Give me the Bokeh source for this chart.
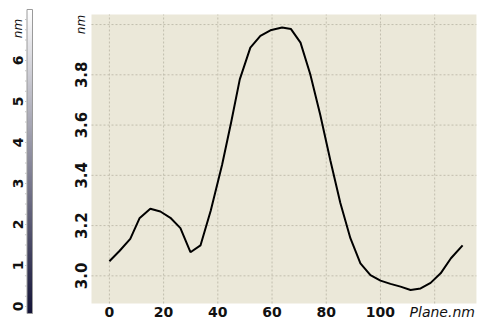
import numpy as np
from bokeh.plotting import figure
from bokeh.models import Range1d, LinearColorMapper
from bokeh.core.properties import value
from bokeh.embed import file_html
from bokeh.resources import INLINE

# ---- data ----
plane_nm = [0, 3.8, 7.7, 11.1, 15.1, 18.8, 22.5, 26.2, 29.9, 33.6, 37.4, 41.6,
            44.9, 48.1, 52.0, 55.7, 59.4, 63.7, 67.0, 70.5, 74.1, 77.8, 81.5,
            85.2, 88.9, 92.6, 96.3, 100.0, 103.7, 107.4, 111.1, 114.8, 118.5,
            122.2, 126.0, 130.3]
height_nm = [3.058, 3.10, 3.147, 3.229, 3.267, 3.256, 3.231, 3.190, 3.094, 3.121,
             3.26, 3.443, 3.61, 3.782, 3.908, 3.955, 3.977, 3.988, 3.982, 3.928,
             3.802, 3.64, 3.46, 3.29, 3.15, 3.05, 3.003, 2.981, 2.968, 2.957,
             2.944, 2.950, 2.972, 3.01, 3.07, 3.121]
x_ticks = [0, 20, 40, 60, 80, 100, 120]
x_tick_labels = ["0", "20", "40", "60", "80", "100"]   # 120 carries the axis name
y_ticks = [3.0, 3.2, 3.4, 3.6, 3.8, 4.0]
y_tick_labels = ["3.0", "3.2", "3.4", "3.6", "3.8"]     # 4.0 carries the unit
cbar_ticks = [0, 1, 2, 3, 4, 5, 6]
cbar_tick_labels = ["0", "1", "2", "3", "4", "5", "6"]
x_axis_name = "Plane.nm"
y_unit = "nm"
cbar_unit = "nm"

# plot-area extents (data units)
AX0, AX1 = -6.6, 135.4
AY0, AY1 = 2.890, 4.040
# colour-bar extents (nm)
CB0, CB1 = -0.171, 7.244

W, H = 477, 321
FONT = value("'DejaVu Sans'")
BEIGE = "#EBE8D9"
GRID = "#c2beae"
TXT = "#111111"

# canvas = frame; main data scale: x 2.7108 px/unit, y 251.3 px/unit
XPU, YPU = 2.7108, 251.3
x_start = AX0 - 91 / XPU
x_end = AX0 + (W - 91) / XPU
y_end = AY1 + 14 / YPU
y_start = AY1 - (H - 14) / YPU

p = figure(width=W, height=H, output_backend="svg", toolbar_location=None,
           x_range=Range1d(x_start, x_end), y_range=Range1d(y_start, y_end),
           min_border=0)
p.axis.visible = False
p.grid.visible = False
p.outline_line_color = None
p.background_fill_color = "white"
p.border_fill_color = "white"

# extra scales for the colour bar: x in pixels, y in nm (41 px per nm, 0 at 306 px)
CPU = 41.0
p.extra_x_ranges = {"px": Range1d(0, W)}
p.extra_y_ranges = {"cb": Range1d(-(H - 306) / CPU, 306 / CPU)}

# ---- plot area ----
p.quad(left=[AX0], right=[AX1], bottom=[AY0], top=[AY1],
       fill_color=BEIGE, line_color=None)
p.segment(x0=x_ticks, x1=x_ticks, y0=[AY0] * len(x_ticks), y1=[AY1] * len(x_ticks),
          line_color=GRID, line_dash="2 2", line_width=1)
p.segment(x0=[AX0] * len(y_ticks), x1=[AX1] * len(y_ticks), y0=y_ticks, y1=y_ticks,
          line_color=GRID, line_dash="2 2", line_width=1)
p.line(plane_nm, height_nm, line_color="black", line_width=2)

# tick labels
lab_y = AY0 - (312 - 303) / YPU
lab_x = AX0 - (91 - 80.5) / XPU
p.text(x=x_ticks[:len(x_tick_labels)], y=[lab_y] * len(x_tick_labels),
       text=x_tick_labels, text_font=FONT, text_font_style="bold",
       text_font_size="14px", text_align="center", text_baseline="middle",
       text_color=TXT)
p.text(x=[lab_x] * len(y_tick_labels), y=y_ticks[:len(y_tick_labels)],
       text=y_tick_labels, angle=np.pi / 2, text_font=FONT,
       text_font_style="bold", text_font_size="15px", text_align="center",
       text_baseline="middle", text_color=TXT)
p.text(x=[lab_x], y=[y_ticks[-1]], text=[y_unit], angle=np.pi / 2,
       text_font=FONT, text_font_style="italic", text_font_size="12px",
       text_align="center", text_baseline="middle", text_color=TXT)
p.text(x=[AX1 - 1.5 / XPU], y=[lab_y], text=[x_axis_name], text_font=FONT,
       text_font_style="italic", text_font_size="14px", text_align="right",
       text_baseline="middle", text_color=TXT)

# ---- colour bar ----
def hex_lerp(c0, c1, t):
    a = [int(c0[i:i + 2], 16) for i in (1, 3, 5)]
    b = [int(c1[i:i + 2], 16) for i in (1, 3, 5)]
    return "#%02x%02x%02x" % tuple(int(round(a[k] + (b[k] - a[k]) * t)) for k in range(3))

palette = [hex_lerp("#141438", "#ffffff", i / 255) for i in range(256)]
mapper = LinearColorMapper(palette=palette, low=CB0, high=CB1)
grad = np.linspace(CB0, CB1, 300).reshape(-1, 1)
BX0, BX1 = 26.5, 32
p.image(image=[grad], x=BX0, y=CB0, dw=BX1 - BX0, dh=CB1 - CB0,
        color_mapper=mapper, x_range_name="px", y_range_name="cb")
p.quad(left=[BX0], right=[BX1], bottom=[CB0], top=[CB1], fill_color=None,
       line_color="#9a9a9a", line_width=1, x_range_name="px", y_range_name="cb")
minor = [t / 4 for t in range(0, 29)]
p.segment(x0=[BX0 - 2] * len(minor), x1=[BX0] * len(minor), y0=minor, y1=minor,
          line_color="#c4c4c4", line_width=1, x_range_name="px", y_range_name="cb")
p.text(x=[17.5] * len(cbar_ticks), y=cbar_ticks, text=cbar_tick_labels,
       angle=np.pi / 2, text_font=FONT, text_font_style="bold",
       text_font_size="14px", text_align="center", text_baseline="middle",
       text_color=TXT, x_range_name="px", y_range_name="cb")
p.text(x=[17.5], y=[6.78], text=[cbar_unit], angle=np.pi / 2,
       text_font=FONT, text_font_style="italic", text_font_size="12px",
       text_align="center", text_baseline="middle", text_color=TXT,
       x_range_name="px", y_range_name="cb")

open("out.html", "w").write(file_html(p, INLINE))
